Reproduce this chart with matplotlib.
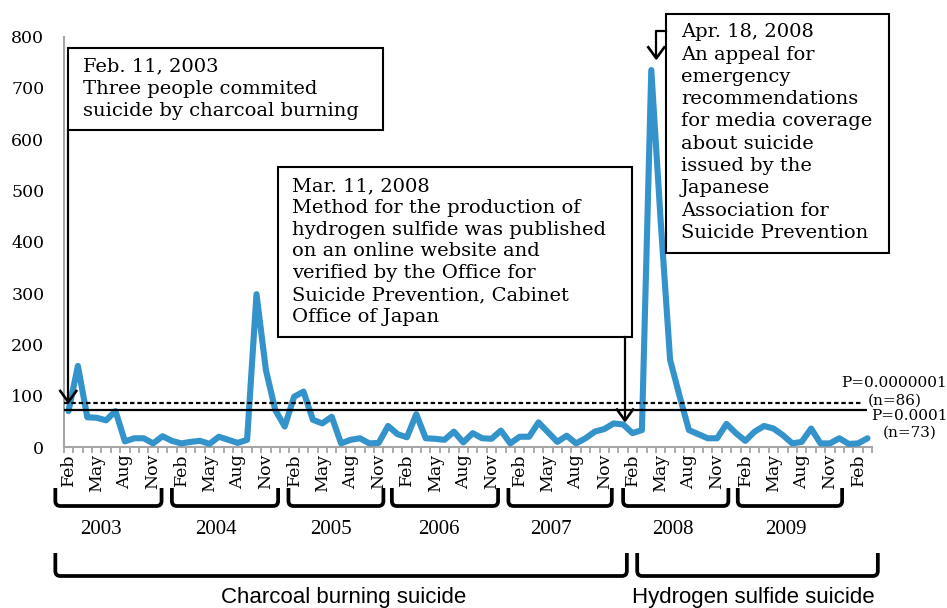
import matplotlib
matplotlib.use("Agg")
import matplotlib.pyplot as plt
from matplotlib.path import Path
from matplotlib.patches import PathPatch, Rectangle
import matplotlib.lines as mlines

W, H = 947, 608
SERIF = "DejaVu Serif"
BLUE = "#3393ca"
GRAY = "#a6a6a6"

# monthly counts, Feb 2003 .. Mar 2010
MONTH_NAMES = ["Jan", "Feb", "Mar", "Apr", "May", "Jun",
               "Jul", "Aug", "Sep", "Oct", "Nov", "Dec"]
COUNTS = [70, 158, 58, 57, 52, 70, 11, 17, 17, 7, 21, 12,
          7, 10, 12, 6, 20, 14, 8, 14, 298, 150, 72, 40,
          98, 108, 53, 46, 59, 7, 14, 17, 7, 8, 41, 25,
          19, 64, 17, 16, 14, 30, 9, 27, 17, 16, 32, 7,
          20, 20, 48, 29, 10, 22, 7, 17, 30, 35, 46, 44,
          27, 33, 735, 440, 170, 100, 33, 25, 17, 17, 45, 27,
          12, 30, 41, 36, 23, 7, 10, 36, 7, 7, 17, 6,
          7, 17]
LIMIT_86 = 86
LIMIT_73 = 73
LIMIT_LABELS = [("P=0.0000001", "(n=86)"), ("P=0.0001", "(n=73)")]

YEARS = ["2003", "2004", "2005", "2006", "2007", "2008", "2009"]
YEAR_SPANS = [(-1.4, 9.9), (11.0, 22.3), (23.4, 33.5), (34.4, 45.7),
              (46.8, 57.8), (59.0, 70.2), (71.2, 82.3)]
YEAR_LABEL_X = [3.5, 15.7, 27.9, 39.4, 51.3, 64.3, 76.3]
PERIODS = ["Charcoal burning suicide", "Hydrogen sulfide suicide"]
PERIOD_SPANS = [(-1.4, 59.4), (60.5, 86.1)]
PERIOD_LABEL_X = [29.3, 72.8]

NOTE1 = ["Feb. 11, 2003", "Three people commited", "suicide by charcoal burning"]
NOTE2 = ["Mar. 11, 2008", "Method for the production of",
         "hydrogen sulfide was published", "on an online website and",
         "verified by the Office for", "Suicide Prevention, Cabinet",
         "Office of Japan"]
NOTE3 = ["Apr. 18, 2008", "An appeal for", "emergency", "recommendations",
         "for media coverage", "about suicide", "issued by the", "Japanese",
         "Association for", "Suicide Prevention"]

months = [MONTH_NAMES[(1 + i) % 12] for i in range(len(COUNTS))]


def P(x, y):
    # pixel (from top-left) -> figure fraction
    return x / W, 1 - y / H


fig = plt.figure(figsize=(W / 100, H / 100), dpi=100)
fig.patch.set_facecolor("white")
x0, y0 = P(63.8, 447)
x1, y1 = P(872.2, 36.7)
ax = fig.add_axes([x0, y0, x1 - x0, y1 - y0])

n = len(COUNTS)
ax.plot(range(n), COUNTS, color=BLUE, lw=4.4, solid_joinstyle="round",
        solid_capstyle="round", zorder=3, clip_on=False)
ax.hlines(LIMIT_86, -0.5, 84.5, color="black", lw=1.6,
          linestyles=[(0, (2.0, 1.3))], zorder=4)
ax.hlines(LIMIT_73, -0.5, 84.9, color="black", lw=1.6, zorder=4)

ax.set_xlim(-0.5, n - 0.5)
ax.set_ylim(0, 800)
ax.set_yticks(range(0, 801, 100))
ax.set_xticks(range(0, n, 3))
ax.set_xticklabels(months[::3], rotation=90, family=SERIF, fontsize=12.5)
ax.set_xticks([i - 0.5 for i in range(n + 1)], minor=True)
ax.tick_params(axis="x", which="major", length=0, pad=5)
ax.tick_params(axis="x", which="minor", length=4.5, width=1.3, color=GRAY)
ax.tick_params(axis="y", length=0, pad=14, labelsize=12.5)
for lab in ax.get_yticklabels():
    lab.set_family(SERIF)
for s in ["top", "right"]:
    ax.spines[s].set_visible(False)
for s in ["left", "bottom"]:
    ax.spines[s].set_color(GRAY)
    ax.spines[s].set_linewidth(1.5)


def idx_px(i):
    return x0 * W + (i + 0.5) / n * (x1 - x0) * W


def bracket(xa, xb, ytop, ybot, r, lw):
    verts = [(xa, ytop), (xa, ybot - r), (xa, ybot), (xa + r, ybot),
             (xb - r, ybot), (xb, ybot), (xb, ybot - r), (xb, ytop)]
    codes = [Path.MOVETO, Path.LINETO, Path.CURVE3, Path.CURVE3,
             Path.LINETO, Path.CURVE3, Path.CURVE3, Path.LINETO]
    path = Path([P(*v) for v in verts], codes)
    fig.add_artist(PathPatch(path, fill=False, lw=lw, edgecolor="black",
                             transform=fig.transFigure, capstyle="butt"))


for (a, b), yr, lx in zip(YEAR_SPANS, YEARS, YEAR_LABEL_X):
    bracket(idx_px(a), idx_px(b), 488, 506, 5, 2.7)
    fig.text(*P(idx_px(lx), 530), yr, ha="center", va="center",
             family="Liberation Serif", fontsize=15)
for (a, b), lab, lx in zip(PERIOD_SPANS, PERIODS, PERIOD_LABEL_X):
    bracket(idx_px(a), idx_px(b), 553, 576, 5, 2.7)
    fig.text(*P(idx_px(lx), 598), lab, ha="center", va="center",
             family="Liberation Sans", fontsize=16)

# threshold labels
for (top, bot), cx, yc in zip(LIMIT_LABELS, [894, 909], [(383, 400.5), (416.5, 433)]):
    fig.text(*P(cx, yc[0]), top, ha="center", va="center", family=SERIF, fontsize=11)
    fig.text(*P(cx + 1, yc[1]), bot, ha="center", va="center", family=SERIF, fontsize=11)


def box(l, t, r, b):
    bl = P(l, b)
    tr = P(r, t)
    fig.add_artist(Rectangle(bl, tr[0] - bl[0], tr[1] - bl[1], fill=True,
                             facecolor="white", edgecolor="black", lw=1.5,
                             transform=fig.transFigure, zorder=5))


def lines_text(lines, x, ytop, step):
    for k, s in enumerate(lines):
        fig.text(*P(x, ytop + k * step), s, ha="left", va="center",
                 family=SERIF, fontsize=14, zorder=6)


def chevron(x, tip):
    xs, ys = zip(P(x - 8, tip - 11), P(x, tip), P(x + 8, tip - 11))
    fig.add_artist(mlines.Line2D(xs, ys, color="black", lw=1.9,
                                 transform=fig.transFigure, zorder=6))


def seg(pts):
    xs, ys = zip(*[P(*p) for p in pts])
    fig.add_artist(mlines.Line2D(xs, ys, color="black", lw=1.6,
                                 transform=fig.transFigure, zorder=6))


box(68, 47.5, 383, 129.5)
lines_text(NOTE1, 83, 66.5, 22)
seg([(68.3, 129.5), (68.3, 401)])
chevron(68.3, 402)

box(278.3, 166.7, 631.7, 336.7)
lines_text(NOTE2, 292, 186, 21.8)
seg([(625, 336.7), (625, 419)])
chevron(625, 420.5)

box(665.7, 14, 889.3, 253)
lines_text(NOTE3, 681, 32.3, 22.3)
seg([(665.7, 30.7), (656.3, 30.7), (656.3, 57)])
chevron(656.3, 58.3)

fig.savefig("out.png", dpi=100, facecolor="white")
